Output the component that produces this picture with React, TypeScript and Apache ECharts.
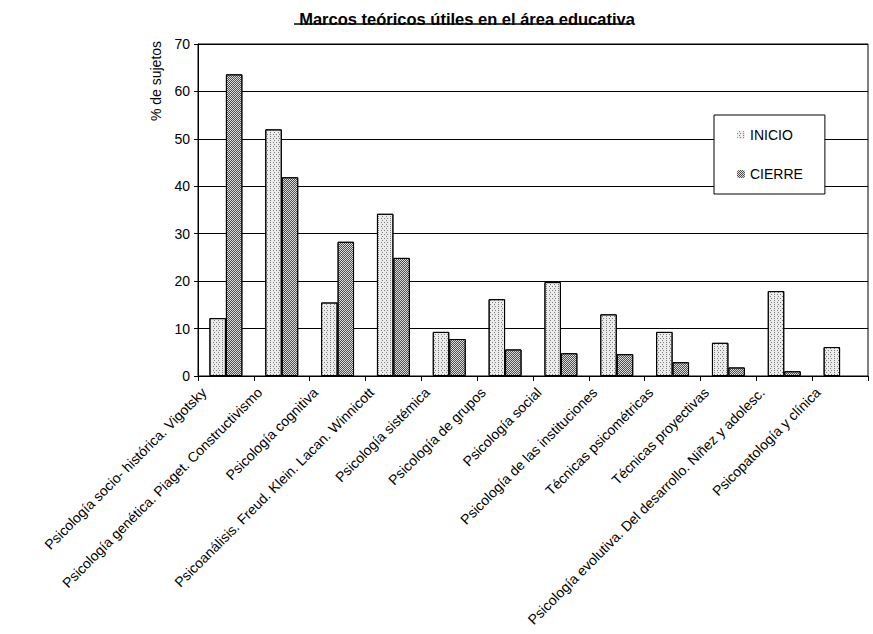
import React, { useEffect, useRef } from "react";
import * as echarts from "echarts";

const categories = [
  "Psicología socio- histórica. Vigotsky",
  "Psicología genética. Piaget. Constructivismo",
  "Psicología cognitiva",
  "Psicoanálisis. Freud. Klein. Lacan. Winnicott",
  "Psicología sistémica",
  "Psicología de grupos",
  "Psicología social",
  "Psicología de las instituciones",
  "Técnicas psicométricas",
  "Técnicas proyectivas",
  "Psicología evolutiva. Del desarrollo. Niñez y adolesc.",
  "Psicopatología y clínica",
];

const inicio = [12.2, 52.0, 15.5, 34.2, 9.3, 16.2, 19.8, 13.0, 9.3, 7.0, 17.9, 6.1];
const cierre = [63.6, 41.9, 28.3, 24.9, 7.8, 5.6, 4.8, 4.6, 2.9, 1.8, 1.0, 0];

const seriesNames = ["INICIO", "CIERRE"];
const yTicks = { min: 0, max: 70, interval: 10 };
const titleText = "Marcos teóricos útiles en el área educativa";
const yAxisTitle = "% de sujetos";

const FONT = "'Liberation Sans', Arial, sans-serif";

export default function App() {
  const ref = useRef<HTMLDivElement>(null);

  useEffect(() => {
    document.body.style.margin = "0";
    if (!ref.current) return;
    const chart = echarts.init(ref.current, null, { renderer: "svg" });

    const option: any = {
      animation: false,
      backgroundColor: "#ffffff",
      aria: { enabled: true, decal: { show: true } },
      title: {
        text: titleText,
        left: 462,
        top: 5,
        textAlign: "center",
        textStyle: {
          fontFamily: FONT,
          fontSize: 16.5,
          fontWeight: "bold",
          color: "#000",
        },
      },
      legend: {
        orient: "vertical",
        left: 714,
        top: 115,
        padding: [13, 22, 13, 23],
        itemGap: 25,
        itemWidth: 8,
        itemHeight: 8,
        borderColor: "#000",
        borderWidth: 1,
        backgroundColor: "#fff",
        borderRadius: 0,
        itemStyle: { borderWidth: 0 },
        textStyle: {
          fontFamily: FONT,
          fontSize: 14,
          color: "#000",
          lineHeight: 14,
        },
        data: seriesNames,
      },
      grid: {
        left: 198,
        right: 5,
        top: 44,
        bottom: 258,
        show: true,
        borderColor: "#000",
        borderWidth: 1,
        backgroundColor: "transparent",
      },
      xAxis: {
        type: "category",
        data: categories,
        axisLine: { show: true, lineStyle: { color: "#000", width: 1 } },
        axisTick: { show: true, length: 5, lineStyle: { color: "#000" }, interval: 0 },
        axisLabel: { show: false },
        splitLine: { show: false },
      },
      yAxis: {
        type: "value",
        min: yTicks.min,
        max: yTicks.max,
        interval: yTicks.interval,
        axisLine: { show: true, lineStyle: { color: "#000", width: 1 } },
        axisTick: { show: true, length: 4, lineStyle: { color: "#000" } },
        axisLabel: {
          margin: 8,
          fontFamily: FONT,
          fontSize: 14,
          color: "#000",
        },
        splitLine: { show: true, lineStyle: { color: "#000", width: 1 } },
      },
      series: [
        {
          name: seriesNames[0],
          type: "bar",
          data: inicio,
          barGap: "0%",
          barCategoryGap: "41%",
          itemStyle: {
            color: "#ececec",
            borderColor: "#000",
            borderWidth: 1,
            decal: {
              symbol: "rect",
              symbolSize: 1,
              color: "rgba(110,110,110,0.9)",
              dashArrayX: [[1, 2], [0, 1.5, 1, 0.5]],
              dashArrayY: [1, 1],
              rotation: 0,
            },
          },
        },
        {
          name: seriesNames[1],
          type: "bar",
          data: cierre.map((v) => (v === 0 ? null : v)),
          barGap: "0%",
          barCategoryGap: "41%",
          itemStyle: {
            color: "#dcdcdc",
            borderColor: "#000",
            borderWidth: 1,
            decal: {
              symbol: "rect",
              symbolSize: 1,
              color: "rgba(70,70,70,0.95)",
              dashArrayX: [[1, 1], [0, 1, 1, 0]],
              dashArrayY: [1, 0],
              rotation: 0,
            },
          },
        },
      ],
    };

    chart.setOption(option);

    // Category labels placed at positions given by the category axis scale
    const labelGraphics: any[] = categories.map((cat) => {
      const p = chart.convertToPixel({ gridIndex: 0 }, [cat, 0]) as number[];
      return {
        type: "text",
        x: p[0] - 22,
        y: p[1] + 14,
        rotation: Math.PI / 4,
        silent: true,
        style: {
          text: cat,
          fontFamily: FONT,
          fontSize: 14,
          fill: "#000",
          align: "right",
          verticalAlign: "middle",
        },
      };
    });

    chart.setOption({
      graphic: [
        {
          type: "line",
          shape: { x1: 294, y1: 24, x2: 630, y2: 24 },
          style: { stroke: "#000", lineWidth: 1.5 },
        },
        {
          type: "text",
          x: 156,
          y: 81,
          rotation: Math.PI / 2,
          style: {
            text: yAxisTitle,
            fontFamily: FONT,
            fontSize: 14,
            fill: "#000",
            align: "center",
            verticalAlign: "middle",
          },
        },
        ...labelGraphics,
      ],
    });

    return () => {
      chart.dispose();
    };
  }, []);

  return <div ref={ref} style={{ width: 873, height: 634 }} />;
}
